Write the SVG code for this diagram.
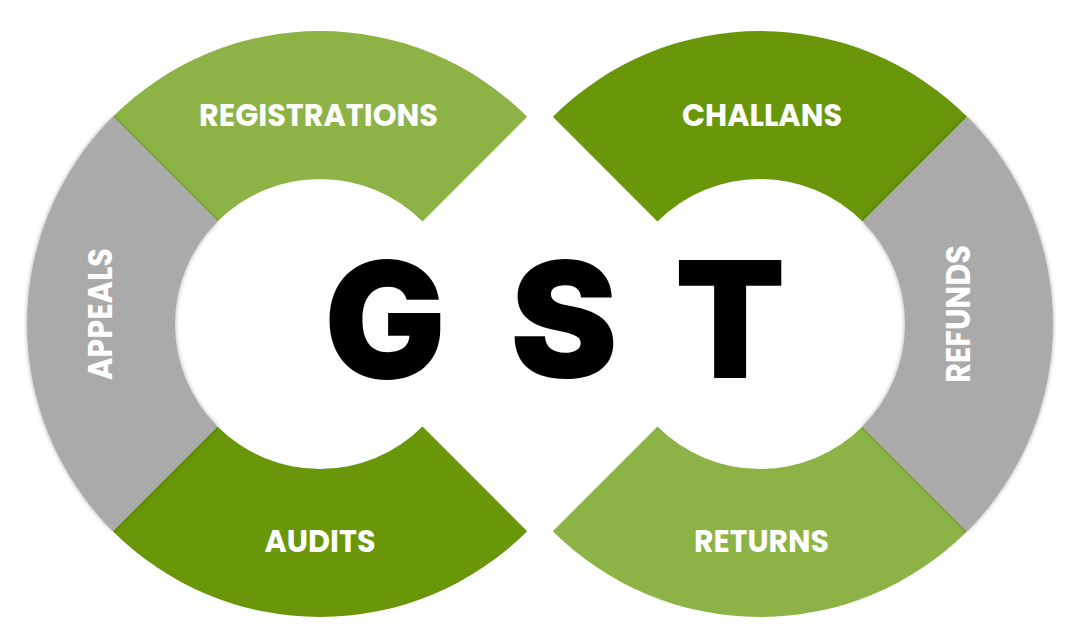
<svg xmlns="http://www.w3.org/2000/svg" width="1080" height="644" viewBox="0 0 1080 644">
<defs>
<filter id="sh" x="-10%" y="-10%" width="120%" height="120%">
<feDropShadow dx="0" dy="0" stdDeviation="2" flood-color="#000" flood-opacity="0.35"/>
</filter>
<style>
.light{fill:#8DB246;}
.dark{fill:#699709;}
.gray{fill:#AAAAAA;filter:url(#sh);}
.lbl{font-family:Poppins,Inter,"Liberation Sans",sans-serif;font-weight:700;font-size:31px;fill:#FFFFFF;text-anchor:middle;}
.big{font-family:Inter,"Liberation Sans",sans-serif;font-weight:900;font-size:162px;fill:#000000;text-anchor:middle;}
</style>
</defs>
<rect width="1080" height="644" fill="#FFFFFF"/>
<g id="registrations">
<path class="light" d="M 112.82 116.82 A 293 293 0 0 1 527.18 116.82 L 422.53 221.47 A 145 145 0 0 0 217.47 221.47 Z"/>
<text class="lbl" x="318.5" y="126" textLength="239" lengthAdjust="spacingAndGlyphs">REGISTRATIONS</text>
</g>
<g id="audits">
<path class="dark" d="M 527.18 531.18 A 293 293 0 0 1 112.82 531.18 L 217.47 426.53 A 145 145 0 0 0 422.53 426.53 Z"/>
<text class="lbl" x="320" y="552" textLength="111" lengthAdjust="spacingAndGlyphs">AUDITS</text>
</g>
<g id="appeals">
<path class="gray" d="M 112.82 531.18 A 293 293 0 0 1 112.82 116.82 L 217.47 221.47 A 145 145 0 0 0 217.47 426.53 Z"/>
<text class="lbl" transform="translate(112 314) rotate(-90)" x="0" y="0" style="font-size:33px" textLength="132" lengthAdjust="spacingAndGlyphs">APPEALS</text>
</g>
<g id="challans">
<path class="dark" d="M 552.82 116.82 A 293 293 0 0 1 967.18 116.82 L 862.53 221.47 A 145 145 0 0 0 657.47 221.47 Z"/>
<text class="lbl" x="762" y="126" textLength="160" lengthAdjust="spacingAndGlyphs">CHALLANS</text>
</g>
<g id="returns">
<path class="light" d="M 967.18 531.18 A 293 293 0 0 1 552.82 531.18 L 657.47 426.53 A 145 145 0 0 0 862.53 426.53 Z"/>
<text class="lbl" x="761.5" y="552" textLength="135" lengthAdjust="spacingAndGlyphs">RETURNS</text>
</g>
<g id="refunds">
<path class="gray" d="M 967.18 116.82 A 293 293 0 0 1 967.18 531.18 L 862.53 426.53 A 145 145 0 0 0 862.53 221.47 Z"/>
<text class="lbl" transform="translate(970 314) rotate(-90)" x="0" y="0" style="font-size:33px" textLength="138" lengthAdjust="spacingAndGlyphs">REFUNDS</text>
</g>
<g id="gst">
<text class="big" x="385" y="378">G</text>
<text class="big" x="564" y="378">S</text>
<text class="big" x="730" y="378">T</text>
</g>
<g id="connectors"/>
</svg>
